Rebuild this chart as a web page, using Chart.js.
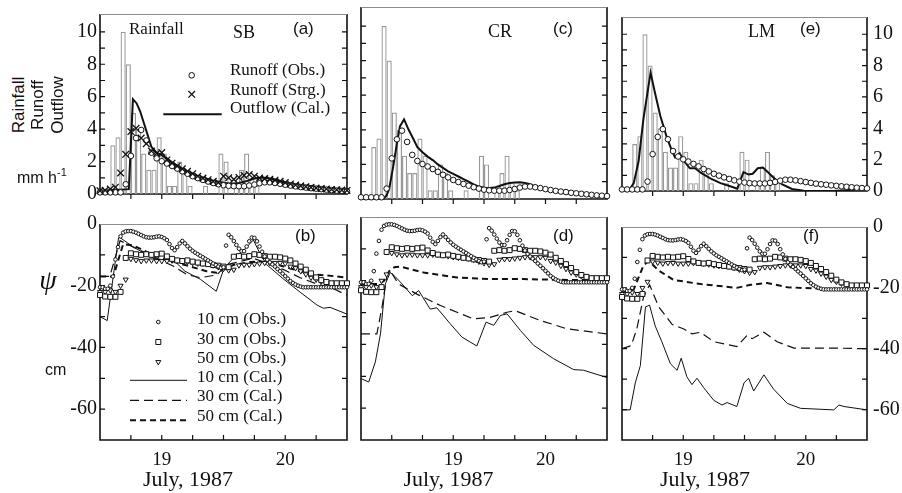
<!DOCTYPE html>
<html>
<head>
<meta charset="utf-8">
<script src="https://cdn.jsdelivr.net/npm/chart.js@4.4.1/dist/chart.umd.min.js"></script>
<style>
  html, body { margin: 0; padding: 0; background: #fff; }
  #fig { position: relative; width: 902px; height: 493px; overflow: hidden; background: #fff; }
  #fig canvas { position: absolute; }
  .t { position: absolute; white-space: nowrap; color: #111; line-height: 1; }
</style>
</head>
<body>
<div id="fig"></div>
<script>
// ---------- data (hours counted from 12:00, 18 July) ----------
// hourly rainfall, mm/h (hours 0..30, later hours are zero)
const rainfall = [0, 0, 3, 3.5, 10, 8, 5, 4, 2.5, 1.5, 1.5, 3.5, 2.5, 0.5, 0.5, 2, 1.5, 0.5, 0, 0,
  0.5, 0, 0, 2.5, 2, 0, 0.5, 1.5, 2.5, 1, 0.5];

// observed runoff, hourly (hours 0..48), same in the three top panels
const runoffObs = [0.1, 0.1, 0.1, 0.1, 0.1, 0.6, 2.35, 3.45, 3.95, 3.3, 2.55, 2.2, 2.02, 1.88, 1.73, 1.57,
  1.4, 1.25, 1.1, 0.98, 0.87, 0.77, 0.68, 0.6, 0.54, 0.5, 0.48, 0.48, 0.48, 0.52, 0.58, 0.66, 0.72, 0.72,
  0.68, 0.63, 0.57, 0.52, 0.47, 0.43, 0.4, 0.36, 0.33, 0.3, 0.27, 0.24, 0.21, 0.19, 0.17];

// runoff from storage model (SB only), hourly
const runoffStrg = [0.2, 0.23, 0.3, 0.42, 1.3, 2.45, 3.85, 4.05, 3.45, 3.1, 2.65, 2.5, 2.55, 2.1, 1.9, 1.72,
  1.55, 1.4, 1.25, 1.1, 0.98, 0.88, 0.78, 0.7, 1.1, 1.0, 0.9, 1.02, 1.15, 1.2, 1.1, 0.98, 0.95, 0.9,
  0.85, 0.78, 0.7, 0.62, 0.55, 0.5, 0.45, 0.41, 0.37, 0.34, 0.31, 0.28, 0.26, 0.24, 0.22];

// calculated outflow
const sbCalH = [0, 3, 5.6, 6.4, 7.1, 7.8, 9, 10, 11, 12, 13, 14, 15, 16, 17, 18, 19, 20, 21, 22, 23, 24, 25,
  26, 27, 28, 29, 30, 31, 32, 33, 34, 35, 36, 38, 40, 42, 44, 46, 48];
const sbCalV = [0.2, 0.25, 0.3, 5.85, 5.6, 5.1, 3.9, 2.9, 2.55, 2.4, 2.2, 1.95, 1.75, 1.55, 1.4, 1.25, 1.1,
  1.0, 0.9, 0.8, 0.75, 0.7, 0.65, 0.65, 0.68, 0.75, 0.85, 0.95, 1.0, 1.0, 0.95, 0.9, 0.8, 0.7, 0.55, 0.45,
  0.38, 0.32, 0.28, 0.25];
const crCalH = [0, 4.5, 5, 5.5, 6.3, 7, 7.6, 8.4, 9.3, 10, 11, 12, 13, 14, 15, 16, 17, 18, 19, 20, 21, 22,
  23, 24, 25, 26, 27, 28, 29, 30, 31, 32, 33, 34, 35, 36, 38, 40, 42, 44, 46, 48];
const crCalV = [0.05, 0.05, 0.2, 0.6, 1.9, 3.2, 4.2, 4.6, 4.0, 3.6, 3.0, 2.7, 2.45, 2.25, 2.0, 1.8, 1.6,
  1.45, 1.3, 1.15, 1.0, 0.85, 0.72, 0.65, 0.63, 0.66, 0.75, 0.85, 0.92, 0.96, 0.97, 0.93, 0.85, 0.72,
  0.6, 0.52, 0.42, 0.34, 0.27, 0.22, 0.17, 0.13];
const lmCalH = [0, 1.3, 2.3, 3.25, 4.2, 5.1, 5.6, 6.5, 7.5, 8.8, 9.75, 10.4, 11.3, 12.3, 13.3, 14.3, 15.5,
  17.3, 19.3, 21.2, 22.6, 23.8, 24.8, 25.6, 26.6, 27.6, 28.6, 29.7, 31.4, 33.3, 35.6, 41.5, 46, 48];
const lmCalV = [0, 0, 0.5, 1.9, 4.6, 6.5, 7.55, 6.2, 4.8, 3.4, 2.6, 2.15, 2.4, 1.85, 1.45, 1.45, 1.15,
  0.8, 0.5, 0.3, 0.15, 1.2, 1.05, 1.1, 1.45, 1.5, 1.2, 0.85, 0.42, 0.13, 0.02, 0, 0.1, 0.17];

// observed suction head psi (cm); 10 cm every half hour, 30/50 cm hourly
const psi10 = [-20.5, -20.5, -21, -21, -20, -17, -11.5, -7.5, -4, -2.8,
  -2.4, -2.3, -2.3, -2.5, -2.8, -3.2, -3.6, -4, -4.3, -4.4,
  -4.4, -4.3, -4.1, -4.0, -4.2, -4.6, -5.2, -6.5, -7.8, -8.5,
  -7.5, -6.3, -5.5, -6.3, -7.2, -8, -8.7, -9.3, -9.8, -10.3,
  -10.8, -11.3, -11.8, -12.3, -12.8, -13.3, -13.8, -14.2, -14, -7,
  -3.5, -4.3, -5.5, -6.8, -8, -8.8, -8.8, -7.3, -5.6, -4.4,
  -4.5, -5.6, -7.3, -9, -10.5, -11.6, -12.4, -13.1, -13.8, -14.6,
  -15.3, -16.1, -16.9, -17.7, -18.5, -19.1, -19.6, -20, -20.3, -20.5,
  -20.5, -20.5, -20.5, -20.5, -20.5, -20.5, -20.5, -20.5, -20.5, -20.5,
  -20.5, -20.5, -20.5, -20.5, -20.5, -20.5, -20.5];
const psi30 = [-23, -23.5, -23.6, -23.6, -22, -11, -9.5, -9.8, -10, -9.8,
  -10, -9.8, -9.6, -10.5, -11.3, -11.8, -12, -11.8, -12.2, -12.5,
  -12.8, -13, -13.3, -13.5, -13.8, -14, -10.6, -10.4, -10.6, -10.4,
  -9.8, -10, -10.4, -10.6, -10.6, -10.8, -11.2, -11.8, -12.8, -13.8,
  -14.8, -16, -17.3, -18.2, -18.8, -19.2, -19.2, -19.2, -19.2];
const psi50 = [-22, -22, -21.5, -22, -20, -18, -11.3, -11.7, -12, -11.8,
  -11.8, -12, -12, -12, -11.8, -11.8, -12, -12.3, -12.6, -12.8,
  -12.8, -13, -13.4, -14, -14.5, -15, -14.8, -13.4, -13.2, -13.2,
  -13, -12.8, -12.6, -12.6, -12.6, -12.6, -12.8, -13.8, -14.3, -15.3,
  -16.3, -17.4, -18, -18.6, -19.2, -19.2, -19.2, -19.2, -19.2];

// calculated psi
const sb10H = [0, 1.4, 3.6, 3.9, 6.5, 10.4, 14.6, 16.5, 19.5, 22.6, 24.1, 25.9, 27.9, 29.8, 31.1, 32.4, 35.7, 38.9, 42.2, 43.4, 44.7, 48];
const sb10V = [-30, -31.3, -4.5, -4.4, -7.5, -11.1, -12.2, -15.3, -17.9, -21.8, -14.3, -11.1, -8.5, -5.2, -9.6, -13.2, -17.9, -22.1, -26.3, -27.3, -27, -29.2];
const sb30H = [0, 1.9, 3.9, 6.5, 10.4, 14.3, 16.9, 19.5, 22.7, 24.6, 29.8, 32.4, 35.7, 38.9, 42.2, 45.4, 48];
const sb30V = [-17, -17, -5.4, -7.5, -10.6, -13.7, -16.4, -17.4, -16.5, -13.2, -11.1, -12.7, -14.8, -17.4, -19.5, -21, -23.1];
const sb50H = [0, 2.6, 4.5, 6.5, 10.4, 14.3, 17.5, 20.7, 22.7, 26, 29.8, 32.4, 35.7, 38.9, 42.2, 45.4, 48];
const sb50V = [-17, -17, -6.5, -7, -10.1, -12.2, -13.75, -15.3, -15.8, -13.2, -12.2, -12.2, -13.75, -15.3, -16.4, -16.9, -17.4];

const cr10H = [0, 1.5, 2.8, 3.8, 4.75, 5.7, 6.7, 8, 10, 11.25, 13.5, 14.8, 17.4, 19.7, 22.6, 24.4, 25.9, 27.2, 28.5, 31.1, 33.7, 37.6, 41.5, 43.4, 48];
const cr10V = [-50.7, -51.8, -45.5, -36.7, -21, -17.4, -18.75, -21, -24.7, -23.1, -28.9, -28.5, -33.5, -37.7, -40.5, -33, -34, -30.9, -30.4, -35.6, -40.3, -44.5, -47.9, -48.1, -50.4];
const cr30H = [0, 3.1, 4.1, 5.1, 5.7, 7.3, 10.9, 15.5, 22, 25.2, 28.5, 30.1, 35, 40.2, 48];
const cr30V = [-36.7, -36.7, -28.3, -17.9, -16.9, -21, -24.2, -27.8, -32, -31.5, -29.9, -29.4, -32.5, -35.1, -36.7];
const cr50H = [0, 3.5, 4.5, 5.5, 6.5, 7.7, 12.2, 18.7, 25.2, 31.7, 41.5, 48];
const cr50V = [-21, -21, -20, -17, -15.8, -15.6, -17.4, -19, -19.5, -19.5, -19.8, -19.8];

const lm10H = [0, 1.6, 2.6, 3.6, 4.6, 5.4, 6.5, 7.8, 9.5, 10.8, 11.6, 12.7, 13.7, 14.7, 16, 18, 19.6, 20.6, 22.5, 23.9, 24.8, 25.8, 27.8, 29.7, 32.4, 35, 41.5, 42.5, 43.5, 48];
const lm10V = [-60.1, -60.1, -51.25, -45.5, -26.25, -25.7, -32.5, -37.7, -45, -47.1, -43.1, -49.2, -51.8, -49.7, -52.8, -57, -58.5, -57.7, -59, -51.25, -49.7, -53.9, -48.6, -53.3, -58, -59.6, -60.1, -58.5, -59, -60.1];
const lm30H = [0, 1.8, 2.9, 4.2, 5.4, 7.2, 9.8, 12.1, 13.7, 15.4, 18, 22.5, 24.5, 25.5, 27.8, 30.4, 33.7, 41.5, 48];
const lm30V = [-40, -39, -33.5, -23.1, -19, -26.25, -32, -33.5, -35.1, -34.6, -37.7, -39.3, -35.6, -36.7, -34.6, -37.7, -39.8, -39.8, -40];
const lm50H = [0, 2.3, 4.2, 5.2, 7.2, 10.1, 15.4, 22.5, 25.2, 28.4, 32.4, 41.5, 48];
const lm50V = [-21.6, -20.5, -12.7, -11.1, -14.3, -17.4, -18.75, -20, -19, -18.4, -19.8, -20.5, -20.5];

// tick labels
const topYLabels = [0, 2, 4, 6, 8, 10];
const botYLabels = [0, -20, -40, -60];
const dayLabels = { '19': '19', '20': '20' };
const dayLabelsCR = { '19.25': '19', '20': '20' };

/*
  ======================= helpers =======================
*/
const SERIF = '"Liberation Serif", "DejaVu Serif", serif';
const SANS = '"Liberation Sans", "DejaVu Sans", sans-serif';
const fig = document.getElementById('fig');
const ML = 55, MR = 55, MT = 8;

const toDay = h => 18.5 + h / 24;
const pts = (hs, vs) => hs.map((h, i) => ({ x: toDay(h), y: vs[i] }));

function frame(xOut, yLimit) {
  return {
    id: 'frame',
    beforeDatasetsDraw(chart) {
      const { ctx, chartArea: a, scales: { x, y } } = chart;
      ctx.save();
      ctx.strokeStyle = '#111';
      ctx.lineWidth = 1.2;
      ctx.beginPath();
      y.ticks.forEach(t => {
        const v = t.value;
        if (v <= y.min || v >= y.max || v > yLimit || !Number.isInteger(v)) return;
        const py = y.getPixelForValue(v);
        ctx.moveTo(a.left, py); ctx.lineTo(a.left + 5, py);
        ctx.moveTo(a.right, py); ctx.lineTo(a.right - 5, py);
      });
      x.ticks.forEach(t => {
        if (t.value <= x.min || t.value >= x.max) return;
        const px = x.getPixelForValue(t.value);
        ctx.moveTo(px, a.bottom); ctx.lineTo(px, a.bottom + (xOut ? 5 : -5));
      });
      ctx.stroke();
      ctx.lineWidth = 1.6;
      ctx.beginPath();
      ctx.moveTo(a.left, a.top); ctx.lineTo(a.left, a.bottom);
      ctx.lineTo(a.right, a.bottom); ctx.lineTo(a.right, a.top);
      ctx.stroke();
      ctx.strokeStyle = '#8c8c8c'; ctx.lineWidth = 1;
      ctx.beginPath(); ctx.moveTo(a.left, a.top + 0.5); ctx.lineTo(a.right, a.top + 0.5); ctx.stroke();
      ctx.restore();
    }
  };
}

// legend samples, positions relative to the plot area
function keys(items) {
  return {
    id: 'keys',
    afterDatasetsDraw(chart) {
      const { ctx, chartArea: a } = chart;
      ctx.save();
      ctx.strokeStyle = '#111';
      ctx.fillStyle = '#fff';
      items.forEach(k => {
        const x = a.left + k.x, y = a.top + k.y;
        ctx.setLineDash(k.dash || []);
        ctx.lineWidth = k.lw || 1;
        ctx.beginPath();
        if (k.t === 'line') { ctx.moveTo(x, y); ctx.lineTo(a.left + k.x2, y); ctx.stroke(); return; }
        if (k.t === 'cross') {
          ctx.moveTo(x - k.r, y - k.r); ctx.lineTo(x + k.r, y + k.r);
          ctx.moveTo(x + k.r, y - k.r); ctx.lineTo(x - k.r, y + k.r);
          ctx.stroke(); return;
        }
        if (k.t === 'circle') ctx.arc(x, y, k.r, 0, Math.PI * 2);
        if (k.t === 'rect') ctx.rect(x - k.r, y - k.r, 2 * k.r, 2 * k.r);
        if (k.t === 'tri') {
          ctx.moveTo(x - 0.866 * k.r, y - k.r / 2); ctx.lineTo(x + 0.866 * k.r, y - k.r / 2);
          ctx.lineTo(x, y + k.r); ctx.closePath();
        }
        ctx.fill(); ctx.stroke();
      });
      ctx.restore();
    }
  };
}

function put(html, x, y, fam, size, opt = {}) {
  const d = document.createElement('div');
  d.className = 't';
  d.innerHTML = html;
  d.style.fontFamily = fam;
  d.style.fontSize = size + 'px';
  d.style.left = x + 'px';
  d.style.top = y + 'px';
  if (opt.italic) d.style.fontStyle = 'italic';
  let tf = opt.center ? 'translate(-50%,-50%)' : 'translateY(-50%)';
  if (opt.rot) tf += ' rotate(' + opt.rot + 'deg)';
  d.style.transform = tf;
  fig.appendChild(d);
}

function makeChart(p) {
  const cv = document.createElement('canvas');
  const W = p.w + ML + MR, H = p.h + MT + p.mb;
  cv.width = W; cv.height = H;
  cv.style.width = W + 'px'; cv.style.height = H + 'px';
  cv.style.left = (p.left - ML) + 'px';
  cv.style.top = (p.top - MT) + 'px';
  fig.appendChild(cv);
  const right = p.yPos === 'right';
  new Chart(cv, {
    type: 'line',
    data: { datasets: p.sets },
    options: {
      responsive: false,
      animation: false,
      devicePixelRatio: 1,
      layout: { padding: { top: MT, bottom: 0, left: right ? ML : 0, right: right ? 0 : MR } },
      plugins: { legend: { display: false }, tooltip: { enabled: false } },
      scales: {
        x: {
          type: 'linear', min: 18.5, max: 20.5, offset: false,
          grid: { display: false, drawTicks: false, offset: false }, border: { display: false },
          ticks: {
            stepSize: 0.25, autoSkip: false, maxRotation: 0, display: !!p.xLabels,
            padding: 9, color: '#111', font: { family: SERIF, size: 19 },
            callback: v => (p.xLabels && p.xLabels[String(v)]) || ''
          },
          afterFit: s => { s.height = p.mb; }
        },
        y: {
          type: 'linear', position: p.yPos, min: p.yMin, max: p.yMax,
          grid: { display: false, drawTicks: false }, border: { display: false },
          ticks: {
            stepSize: p.yStep, autoSkip: false, display: p.yShow,
            padding: right ? 6 : 3, color: '#111', font: { family: SERIF, size: 20 },
            callback: v => p.yLabels.includes(v) ? String(v) : ''
          },
          afterFit: s => { s.width = right ? MR : ML; }
        }
      }
    },
    plugins: [frame(p.xOut, p.yLimit), keys(p.keys || [])]
  });
}

function topSets(calH, calV, strg) {
  const sets = [
    {
      type: 'bar',
      data: rainfall.map((v, i) => ({ x: toDay(i + 0.5), y: v })).filter(d => d.y > 0),
      backgroundColor: 'rgba(0,0,0,0)', borderColor: '#999', borderWidth: 1.2, inflateAmount: 0,
      barPercentage: 1, categoryPercentage: 1, order: 4
    },
    {
      type: 'line', data: pts(calH, calV), borderColor: '#111', borderWidth: 2,
      pointRadius: 0, tension: 0, order: 3
    },
    {
      type: 'line', data: runoffObs.map((v, i) => ({ x: toDay(i), y: v })), showLine: false,
      pointStyle: 'circle', pointRadius: 2.8, pointBorderWidth: 1,
      pointBorderColor: '#111', pointBackgroundColor: '#fff', clip: false, order: 2
    }
  ];
  if (strg) {
    sets.push({
      type: 'line', data: strg.map((v, i) => ({ x: toDay(i), y: v })), showLine: false,
      pointStyle: 'crossRot', pointRadius: 4.7, pointBorderWidth: 1.3,
      pointBorderColor: '#111', clip: false, order: 1
    });
  }
  return sets;
}

function botSets(h10, v10, h30, v30, h50, v50) {
  const line = (d, w, dash, o) => ({
    type: 'line', data: d, borderColor: '#111', borderWidth: w, borderDash: dash,
    pointRadius: 0, tension: 0, order: o
  });
  const mark = (d, style, r, rot, o) => ({
    type: 'line', data: d, showLine: false, pointStyle: style, pointRadius: r,
    pointRotation: rot, pointBorderWidth: 1, pointBorderColor: '#111',
    pointBackgroundColor: '#fff', clip: false, order: o
  });
  return [
    line(pts(h10, v10), 1, [], 6),
    line(pts(h30, v30), 1.2, [9, 5], 5),
    line(pts(h50, v50), 2, [6, 4], 4),
    mark(psi50.map((v, i) => ({ x: toDay(i), y: v })), 'triangle', 2.9, 180, 3),
    mark(psi30.map((v, i) => ({ x: toDay(i), y: v })), 'rect', 3.5, 0, 2),
    mark(psi10.map((v, i) => ({ x: toDay(i / 2), y: v })), 'circle', 1.8, 0, 1)
  ];
}

/*
  ======================= panels =======================
*/
const COLS = [{ left: 100, w: 247 }, { left: 361, w: 246 }, { left: 622, w: 245 }];
const TOPROW = { top: 7, h: 192, mb: 10, yMin: 0, yMax: 11.1, yStep: 1, yLimit: 10, xOut: true, yLabels: topYLabels };
const BOTROW = { top: 217, h: 223, mb: 53, yMin: -70, yMax: 0, yStep: 10, yLimit: 0, xOut: false, yLabels: botYLabels };

const keysA = [
  { t: 'circle', x: 91.7, y: 61.3, r: 2.8 },
  { t: 'cross', x: 91.7, y: 80.3, r: 3.3, lw: 1.3 },
  { t: 'line', x: 63.3, x2: 121.7, y: 100.3, lw: 2 }
];
const keysB = [
  { t: 'circle', x: 58.3, y: 98, r: 1.8 },
  { t: 'rect', x: 58.3, y: 118, r: 2.5 },
  { t: 'tri', x: 58.3, y: 138, r: 2.9 },
  { t: 'line', x: 30, x2: 87, y: 156.3, lw: 1 },
  { t: 'line', x: 30, x2: 87, y: 176.3, lw: 1.2, dash: [9, 5] },
  { t: 'line', x: 30, x2: 87, y: 196.3, lw: 2, dash: [6, 4] }
];

makeChart({ ...TOPROW, ...COLS[0], yPos: 'left', yShow: true, sets: topSets(sbCalH, sbCalV, runoffStrg), keys: keysA });
makeChart({ ...TOPROW, ...COLS[1], yPos: 'left', yShow: false, sets: topSets(crCalH, crCalV) });
makeChart({ ...TOPROW, ...COLS[2], yPos: 'right', yShow: true, sets: topSets(lmCalH, lmCalV) });

makeChart({ ...BOTROW, ...COLS[0], yPos: 'left', yShow: true, xLabels: dayLabels, sets: botSets(sb10H, sb10V, sb30H, sb30V, sb50H, sb50V), keys: keysB });
makeChart({ ...BOTROW, ...COLS[1], yPos: 'left', yShow: false, xLabels: dayLabelsCR, sets: botSets(cr10H, cr10V, cr30H, cr30V, cr50H, cr50V) });
makeChart({ ...BOTROW, ...COLS[2], yPos: 'right', yShow: true, xLabels: dayLabels, sets: botSets(lm10H, lm10V, lm30H, lm30V, lm50H, lm50V) });

/*
  ======================= text =======================
*/
put('Rainfall', 129, 28, SERIF, 17);
put('SB', 233, 32, SERIF, 18);
put('(a)', 293, 28, SANS, 17);
put('CR', 488, 31, SERIF, 18);
put('(c)', 553, 28, SANS, 17);
put('LM', 748, 31, SERIF, 18);
put('(e)', 800, 28, SANS, 17);
put('(b)', 295, 235, SANS, 17);
put('(d)', 553, 235, SANS, 17);
put('(f)', 803, 235, SANS, 17);

put('Runoff (Obs.)', 230, 69, SERIF, 17);
put('Runoff (Strg.)', 230, 88.5, SERIF, 17);
put('Outflow (Cal.)', 230, 106.5, SERIF, 17);
put('10 cm (Obs.)', 197, 317.5, SERIF, 17);
put('30 cm (Obs.)', 197, 337.5, SERIF, 17);
put('50 cm (Obs.)', 197, 357, SERIF, 17);
put('10 cm (Cal.)', 197, 375.5, SERIF, 17);
put('30 cm (Cal.)', 197, 395, SERIF, 17);
put('50 cm (Cal.)', 197, 415, SERIF, 17);

put('Rainfall', 17.5, 105, SANS, 17, { center: true, rot: -90 });
put('Runoff', 37, 105, SANS, 17, { center: true, rot: -90 });
put('Outflow', 56.5, 105, SANS, 17, { center: true, rot: -90 });
put('mm h<span style="font-size:11px;position:relative;top:-7px">-1</span>', 17, 177.5, SANS, 16);
put('\u03c8', 48, 280, SERIF, 28, { center: true, italic: true });
put('cm', 45, 369.5, SANS, 16);

put('July, 1987', 188, 478.5, SERIF, 22, { center: true });
put('July, 1987', 448.5, 478.5, SERIF, 22, { center: true });
put('July, 1987', 705, 478.5, SERIF, 22, { center: true });
</script>
</body>
</html>
